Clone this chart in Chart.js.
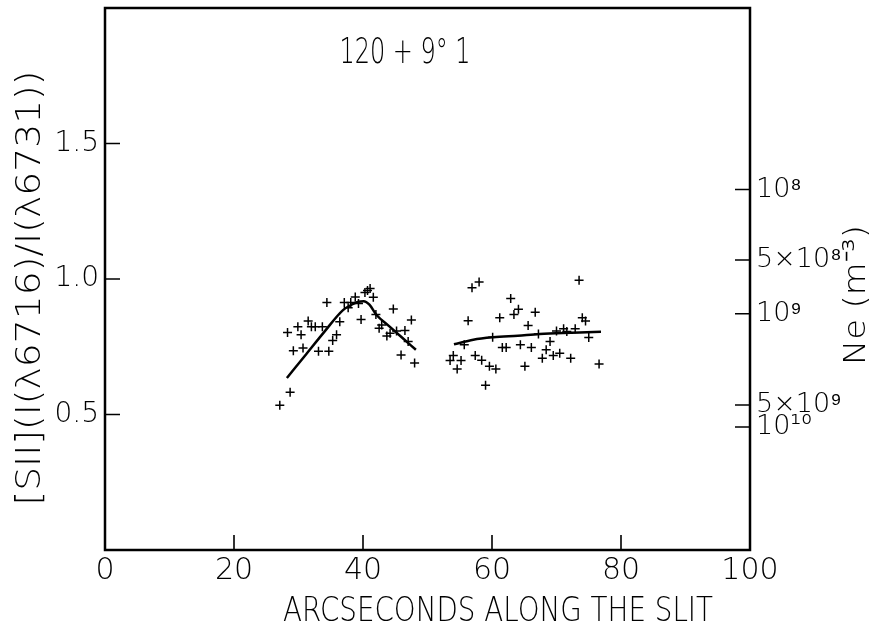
<!DOCTYPE html>
<html>
<head>
<meta charset="utf-8">
<script src="https://cdn.jsdelivr.net/npm/chart.js@4.4.0/dist/chart.umd.min.js"></script>
<style>
  html, body { margin: 0; padding: 0; background: #fff; }
</style>
</head>
<body>
<canvas id="chart" width="878" height="632"></canvas>
<script>
// slit position (arcsec) and [SII] 6716/6731 ratio
const ptsX = [
  27.1, 28.3, 28.7, 29.2, 29.9, 30.4, 30.7, 31.5, 32.0, 32.6, 33.1, 33.7, 34.4,
  34.7, 35.3, 35.9, 36.4, 37.1, 37.7, 38.1, 38.8, 39.3, 39.7, 40.3, 40.7, 41.1,
  41.6, 42.0, 42.5, 42.9, 43.7, 44.2, 44.7, 45.2, 45.9, 46.5, 47.0, 47.5, 48.0,
  53.5, 54.0, 54.6, 55.2, 55.7, 56.3, 56.9, 57.4, 58.0, 58.4, 59.0, 59.6, 60.1,
  60.6, 61.2, 61.6, 62.2, 62.9, 63.4, 64.1, 64.4, 65.1, 65.6, 66.1, 66.7, 67.2,
  67.8, 68.4, 69.0, 69.5, 70.0, 70.5, 71.1, 71.6, 72.2, 72.9, 73.5, 74.0, 74.5,
  75.0, 76.6
];
const ptsRatio = [
  0.534, 0.803, 0.582, 0.735, 0.824, 0.794, 0.745, 0.845, 0.824, 0.824, 0.733, 0.824, 0.913,
  0.733, 0.773, 0.794, 0.842, 0.913, 0.894, 0.913, 0.934, 0.910, 0.851, 0.950, 0.958, 0.965,
  0.933, 0.869, 0.818, 0.830, 0.790, 0.800, 0.889, 0.808, 0.720, 0.810, 0.769, 0.849, 0.690,
  0.699, 0.718, 0.668, 0.699, 0.757, 0.846, 0.968, 0.718, 0.989, 0.700, 0.608, 0.678, 0.785,
  0.668, 0.857, 0.747, 0.747, 0.928, 0.869, 0.888, 0.757, 0.678, 0.828, 0.747, 0.877, 0.797,
  0.708, 0.739, 0.769, 0.718, 0.808, 0.726, 0.816, 0.806, 0.708, 0.816, 0.995, 0.857, 0.845,
  0.784, 0.686
];

// the two smooth fits drawn through the data
const fitAX = [28.2, 31, 34, 36.9, 38.3, 39.3, 40.1, 41, 42.1, 44, 46, 48.2];
const fitAY = [0.635, 0.717, 0.805, 0.885, 0.906, 0.916, 0.918, 0.905, 0.867, 0.827, 0.785, 0.739];
const fitBX = [54.1, 57.1, 60.2, 64, 67.4, 71, 73.6, 76.9];
const fitBY = [0.759, 0.776, 0.785, 0.791, 0.797, 0.801, 0.803, 0.805];

// right hand density scale: where each Ne value sits on the ratio axis
const neTickRatio = [1.33, 1.07, 0.872, 0.535, 0.454];
const neTickLabels = ['10⁸', '5×10⁸', '10⁹', '5×10⁹', '10¹⁰'];

const xTicks = [0, 20, 40, 60, 80, 100];
const yTicks = [0.5, 1.0, 1.5];

const FONT = "'DejaVu Sans', sans-serif";

const toXY = (xs, ys) => xs.map((x, i) => ({ x: x, y: ys[i] }));

// draw text stretched/squeezed along its run so it covers `len` pixels
function fitText(ctx, text, cx, cy, len, size, angle) {
  ctx.save();
  ctx.font = '300 ' + size + 'px ' + FONT;
  ctx.textAlign = 'center';
  ctx.textBaseline = 'middle';
  const w = ctx.measureText(text).width;
  ctx.translate(cx, cy);
  if (angle) ctx.rotate(angle);
  ctx.scale(len / w, 1);
  ctx.fillText(text, 0, 0);
  ctx.restore();
}

// ticks point inward, the whole box is framed, titles drawn by hand
const framePlugin = {
  id: 'frame',
  afterDraw(chart) {
    const { ctx, chartArea: a, scales } = chart;
    ctx.save();
    ctx.strokeStyle = '#000';
    ctx.lineWidth = 2.5;
    ctx.strokeRect(a.left, a.top, a.right - a.left, a.bottom - a.top);

    ctx.lineWidth = 1.6;
    const len = 15;
    ctx.beginPath();
    xTicks.forEach((v) => {
      if (v <= 0 || v >= 100) return;
      const px = scales.x.getPixelForValue(v);
      ctx.moveTo(px, a.bottom);
      ctx.lineTo(px, a.bottom - len);
    });
    yTicks.forEach((v) => {
      const py = scales.y.getPixelForValue(v);
      ctx.moveTo(a.left, py);
      ctx.lineTo(a.left + len, py);
    });
    neTickRatio.forEach((v) => {
      const py = scales.y2.getPixelForValue(v);
      ctx.moveTo(a.right, py);
      ctx.lineTo(a.right - len, py);
    });
    ctx.stroke();
    ctx.restore();

    ctx.fillStyle = '#000';
    fitText(ctx, '120 + 9° 1', 405, 54, 131, 36, 0);
    fitText(ctx, 'ARCSECONDS ALONG THE SLIT', 498, 612, 430, 34, 0);
    fitText(ctx, '[SII](I(λ6716)/I(λ6731))', 31, 288, 435, 33, -Math.PI / 2);
    fitText(ctx, 'Ne (m⁻³)', 857, 295, 140, 31, -Math.PI / 2);
  }
};

new Chart(document.getElementById('chart'), {
  type: 'scatter',
  data: {
    datasets: [
      {
        label: 'ratio',
        data: toXY(ptsX, ptsRatio),
        pointStyle: 'cross',
        pointRadius: 4.5,
        pointBorderWidth: 1.5,
        borderColor: '#000',
        backgroundColor: '#000'
      },
      {
        label: 'fit 1',
        data: toXY(fitAX, fitAY),
        showLine: true,
        pointRadius: 0,
        borderColor: '#000',
        borderWidth: 2.5,
        cubicInterpolationMode: 'monotone'
      },
      {
        label: 'fit 2',
        data: toXY(fitBX, fitBY),
        showLine: true,
        pointRadius: 0,
        borderColor: '#000',
        borderWidth: 2.5,
        cubicInterpolationMode: 'monotone'
      }
    ]
  },
  options: {
    responsive: false,
    animation: false,
    layout: { padding: { top: 8, left: 0, right: 0, bottom: 0 } },
    plugins: {
      legend: { display: false },
      tooltip: { enabled: false }
    },
    scales: {
      x: {
        type: 'linear',
        min: 0,
        max: 100,
        afterFit: (s) => { s.height = 82; s.paddingLeft = 0; s.paddingRight = 0; },
        afterBuildTicks: (s) => { s.ticks = xTicks.map((v) => ({ value: v })); },
        grid: { display: false, drawTicks: false },
        border: { display: false },
        ticks: {
          padding: 3,
          color: '#000',
          font: { family: FONT, size: 30, weight: 300 },
          maxRotation: 0,
          callback: (v) => String(v)
        }
      },
      y: {
        type: 'linear',
        position: 'left',
        min: 0,
        max: 2,
        afterFit: (s) => { s.width = 105; s.paddingTop = 0; s.paddingBottom = 0; },
        afterBuildTicks: (s) => { s.ticks = yTicks.map((v) => ({ value: v })); },
        grid: { display: false, drawTicks: false },
        border: { display: false },
        ticks: {
          padding: 6,
          color: '#000',
          font: { family: FONT, size: 28, weight: 300 },
          callback: (v) => v.toFixed(1)
        }
      },
      y2: {
        type: 'linear',
        position: 'right',
        min: 0,
        max: 2,
        afterFit: (s) => { s.width = 128; s.paddingTop = 0; s.paddingBottom = 0; },
        afterBuildTicks: (s) => { s.ticks = neTickRatio.map((v) => ({ value: v })); },
        grid: { display: false, drawTicks: false },
        border: { display: false },
        ticks: {
          padding: 6,
          color: '#000',
          font: { family: FONT, size: 27, weight: 300 },
          callback: (v, i) => neTickLabels[i]
        }
      }
    }
  },
  plugins: [framePlugin]
});
</script>
</body>
</html>
